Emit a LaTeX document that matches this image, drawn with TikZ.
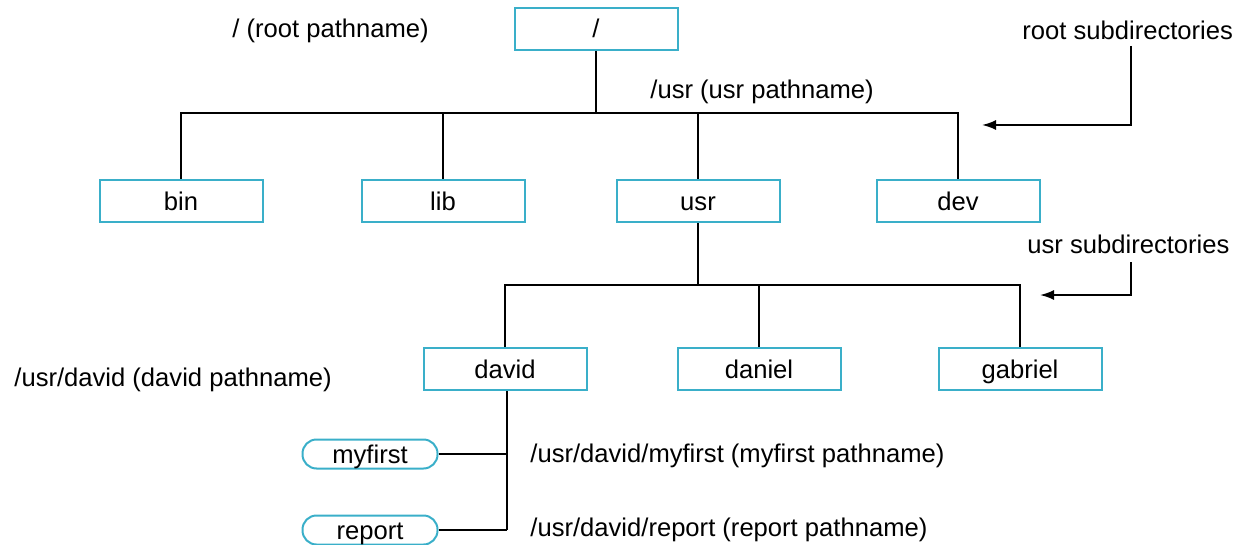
\documentclass[tikz,border=0pt]{standalone}
\usepackage{fontspec}
\setmainfont{Liberation Sans}
\usetikzlibrary{arrows.meta}
\definecolor{boxc}{HTML}{3AAFC9}
\begin{document}
\begin{tikzpicture}[x=0.5pt,y=-0.5pt,
  every node/.style={font=\fontsize{12.8}{15}\selectfont},
  dir/.style={draw=boxc,line width=1pt,minimum width=81.5pt,minimum height=21pt,inner sep=0pt,text height=9.3pt,text depth=0.3pt},
  file/.style={draw=boxc,line width=1pt,rounded corners=7pt,minimum width=67.5pt,minimum height=14.5pt,inner sep=0pt,text height=9.3pt,text depth=0.3pt},
  conn/.style={line width=0.7pt},
  lbl/.style={anchor=west,inner sep=0pt}]
\useasboundingbox (0,0) rectangle (1245,545);
\node[dir] (root) at (596,29) {/};
\node[dir] (bin) at (181,201) {bin};
\node[dir] (lib) at (443,201) {lib};
\node[dir] (usr) at (698,201) {usr};
\node[dir] (dev) at (958,201) {dev};
\node[dir] (david) at (505,369) {david};
\node[dir] (daniel) at (759,369) {daniel};
\node[dir] (gabriel) at (1020,369) {gabriel};
\node[file] (myfirst) at (370,454) {myfirst};
\node[file] (report) at (370,530) {report};
% tree connectors
\coordinate (rb) at (596,113);
\draw[conn] (root.south) -- (rb);
\draw[conn] (bin.north) |- (rb) -| (dev.north);
\draw[conn] (lib.north) -- (lib.north |- rb);
\draw[conn] (usr.north) -- (usr.north |- rb);
\coordinate (ub) at (698,285);
\draw[conn] (usr.south) -- (ub);
\draw[conn] (david.north) |- (ub) -| (gabriel.north);
\draw[conn] (daniel.north) -- (daniel.north |- ub);
\coordinate (dv) at (507,530);
\draw[conn] (david.south -| dv) -- (dv);
\draw[conn] (report.east) -- (dv);
\draw[conn] (myfirst.east) -- (myfirst.east -| dv);
% labels
\node[lbl] (l1) at (232,31) {/ (root pathname)};
\node[lbl] (l2) at (650,92) {/usr (usr pathname)};
\node[lbl] (l3) at (1022,30) {root subdirectories};
\node[lbl] (l4) at (1027,244) {usr subdirectories};
\node[lbl] (l5) at (14,380) {/usr/david (david pathname)};
\node[lbl] (l6) at (530,456) {/usr/david/myfirst (myfirst pathname)};
\node[lbl] (l7) at (530,530) {/usr/david/report (report pathname)};
% arrows
\coordinate (a1) at (1131,46);
\coordinate (a1e) at (982,125);
\draw[line width=0.9pt,-{Latex[length=7pt,width=5pt]}] (a1) |- (a1e);
\coordinate (a2) at (1131,262);
\coordinate (a2e) at (1040,295);
\draw[line width=0.9pt,-{Latex[length=7pt,width=5pt]}] (a2) |- (a2e);
\end{tikzpicture}
\end{document}
